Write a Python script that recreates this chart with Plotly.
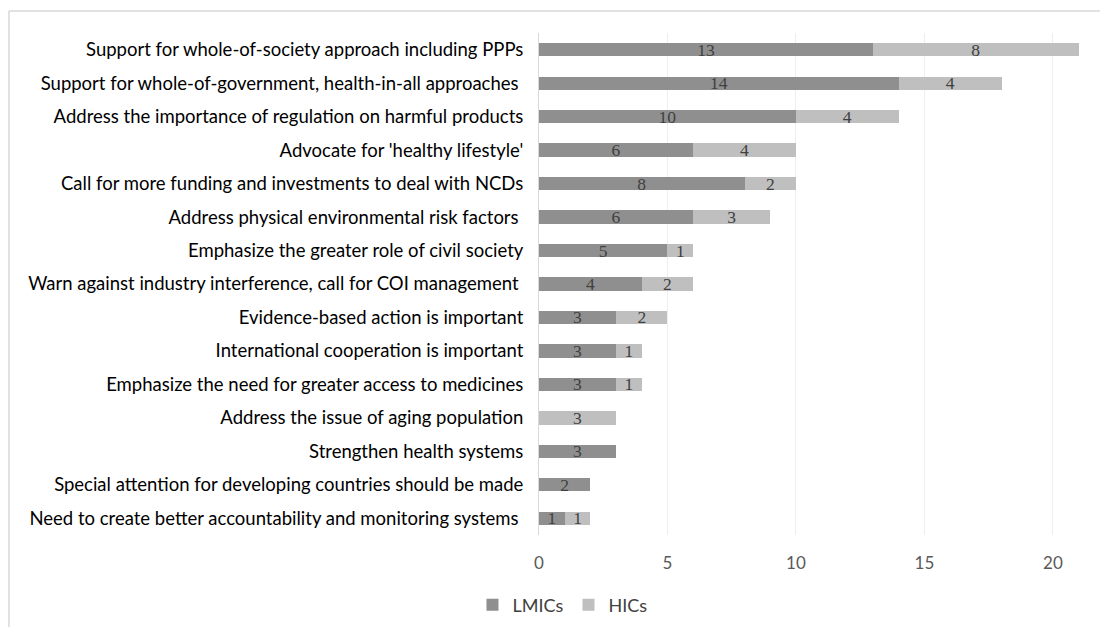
import plotly.graph_objects as go

categories = [
    "Support for whole-of-society approach including PPPs",
    "Support for whole-of-government, health-in-all approaches ",
    "Address the importance of regulation on harmful products",
    "Advocate for 'healthy lifestyle'",
    "Call for more funding and investments to deal with NCDs",
    "Address physical environmental risk factors ",
    "Emphasize the greater role of civil society",
    "Warn against industry interference, call for COI management ",
    "Evidence-based action is important",
    "International cooperation is important",
    "Emphasize the need for greater access to medicines",
    "Address the issue of aging population",
    "Strengthen health systems",
    "Special attention for developing countries should be made",
    "Need to create better accountability and monitoring systems ",
]
lmics = [13, 14, 10, 6, 8, 6, 5, 4, 3, 3, 3, 0, 3, 2, 1]
hics = [8, 4, 4, 4, 2, 3, 1, 2, 2, 1, 1, 3, 0, 0, 1]

W, H = 1100, 627
L, R, T, B = 538.5, 0, 33, 92
pw = W - L - R
ph = H - T - B

def lbl(vals):
    return [str(v) if v else "" for v in vals]

fig = go.Figure()
fig.add_trace(go.Bar(
    y=categories, x=lmics, name="LMICs", orientation="h",
    marker=dict(color="#8f8f8f", line=dict(width=0)),
    text=lbl(lmics), textposition="inside", insidetextanchor="middle",
    textfont=dict(family="Liberation Serif", size=17.5, color="#404040"),
    textangle=0,
))
fig.add_trace(go.Bar(
    y=categories, x=hics, name="HICs", orientation="h",
    marker=dict(color="#bfbfbf", line=dict(width=0)),
    text=lbl(hics), textposition="inside", insidetextanchor="middle",
    textfont=dict(family="Liberation Serif", size=17.5, color="#404040"),
    textangle=0,
))

def px2x(px):
    return (px - L) / pw

def py2y(py):
    return (H - B - py) / ph

fig.update_layout(
    width=W, height=H,
    barmode="stack", bargap=0.6,
    margin=dict(l=L, r=R, t=T, b=B),
    paper_bgcolor="white", plot_bgcolor="white",
    font=dict(family="Lato", size=18, color="#000000"),
    uniformtext=dict(mode="show", minsize=8),
    xaxis=dict(
        range=[0, (W - L - R) / 25.72], tickvals=[0, 5, 10, 15, 20],
        showgrid=True, gridcolor="#eeeeee", gridwidth=1,
        zeroline=False, showline=False,
        tickfont=dict(family="Lato", size=17, color="#595959"),
        ticks="", ticklabelstandoff=16, fixedrange=True,
    ),
    yaxis=dict(
        autorange="reversed", categoryorder="array", categoryarray=categories,
        showgrid=False, zeroline=False,
        showline=True, linecolor="#d9d9d9", linewidth=1,
        ticks="", ticklabelstandoff=11,
        tickfont=dict(family="Lato", size=18.5, color="#000000"),
    ),
    legend=dict(
        orientation="h", x=px2x(562), y=py2y(605), xanchor="center", yanchor="middle",
        font=dict(family="Lato", size=18, color="#404040"),
        traceorder="normal", itemwidth=30,
    ),
    showlegend=True,
    shapes=[
        dict(type="line", xref="paper", yref="paper",
             x0=px2x(8), x1=px2x(1100), y0=py2y(11), y1=py2y(11),
             line=dict(color="#d9d9d9", width=1.5)),
        dict(type="line", xref="paper", yref="paper",
             x0=px2x(8), x1=px2x(8), y0=py2y(11), y1=py2y(627),
             line=dict(color="#d9d9d9", width=1.5)),
    ],
)

fig.write_html(
    "out.html",
    config={"displayModeBar": False},
    post_script="document.body.style.margin='0';document.body.style.overflow='hidden';",
)
